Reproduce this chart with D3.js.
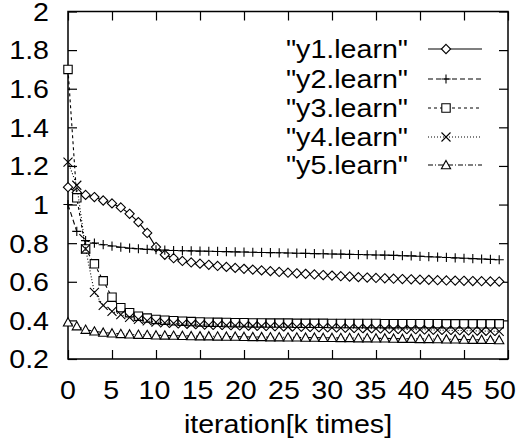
<!DOCTYPE html>
<html lang="en">
<meta charset="utf-8"/>
<head>
<style>
	body { margin: 0; background: #FFFFFF; }
	svg text { font-family: "Liberation Sans", Arial, sans-serif; fill: #000; }
	.tick-label { font-size: 26px; }
	.key-label { font-size: 26px; }
	.series { fill: none; stroke: #000; stroke-width: 1.1; }
	.mark { fill: #fff; stroke: #000; stroke-width: 1.1; }
</style>
</head>
<body>
<svg id="chart" width="525" height="441"></svg>

<script src="https://d3js.org/d3.v7.min.js"></script>
<script>
// iteration index (k times)
let iterations = [0,1,2,3,4,5,6,7,8,9,10,11,12,13,14,15,16,17,18,19,20,21,22,23,24,
	25,26,27,28,29,30,31,32,33,34,35,36,37,38,39,40,41,42,43,44,45,46,47,48,49]

let seriesNames = ["\"y1.learn\"", "\"y2.learn\"", "\"y3.learn\"", "\"y4.learn\"", "\"y5.learn\""]

let y1 = [1.090,1.063,1.050,1.039,1.021,1.006,0.985,0.952,0.909,0.853,0.780,0.740,0.722,0.708,0.700,
	0.694,0.688,0.682,0.677,0.672,0.667,0.663,0.659,0.655,0.651,0.647,0.644,0.641,0.638,0.635,
	0.632,0.629,0.627,0.624,0.622,0.620,0.618,0.616,0.614,0.613,0.611,0.610,0.608,0.607,0.606,
	0.605,0.604,0.603,0.602,0.601]
let y2 = [1.000,0.861,0.813,0.800,0.792,0.785,0.779,0.774,0.771,0.768,0.766,0.764,0.762,0.761,0.760,
	0.759,0.758,0.757,0.756,0.755,0.754,0.753,0.752,0.751,0.750,0.749,0.748,0.747,0.746,0.745,
	0.744,0.743,0.742,0.741,0.740,0.739,0.738,0.737,0.735,0.734,0.732,0.730,0.728,0.726,0.724,
	0.722,0.720,0.718,0.716,0.714]
let y3 = [1.700,1.035,0.770,0.693,0.605,0.520,0.466,0.440,0.422,0.412,0.405,0.401,0.398,0.396,0.394,
	0.392,0.391,0.390,0.389,0.388,0.388,0.387,0.387,0.386,0.386,0.386,0.385,0.385,0.385,0.385,
	0.384,0.384,0.384,0.384,0.384,0.384,0.383,0.383,0.383,0.383,0.383,0.383,0.383,0.382,0.382,
	0.382,0.382,0.382,0.382,0.382]
let y4 = [1.220,1.100,0.770,0.545,0.478,0.447,0.430,0.416,0.405,0.397,0.391,0.387,0.384,0.382,0.380,
	0.378,0.376,0.375,0.374,0.373,0.372,0.371,0.370,0.369,0.368,0.367,0.366,0.365,0.364,0.363,
	0.362,0.361,0.360,0.359,0.358,0.357,0.356,0.355,0.354,0.353,0.352,0.351,0.350,0.349,0.348,
	0.347,0.346,0.345,0.344,0.343]
let y5 = [0.390,0.370,0.352,0.343,0.337,0.333,0.330,0.328,0.326,0.325,0.323,0.322,0.321,0.320,0.319,
	0.318,0.318,0.317,0.316,0.316,0.315,0.314,0.314,0.313,0.313,0.312,0.312,0.311,0.311,0.310,
	0.310,0.309,0.309,0.308,0.308,0.307,0.307,0.306,0.305,0.305,0.304,0.304,0.303,0.302,0.302,
	0.301,0.300,0.300,0.299,0.298]

let xTicks = [0,5,10,15,20,25,30,35,40,45,50]
let yTicks = [0.2,0.4,0.6,0.8,1,1.2,1.4,1.6,1.8,2]

let svg = d3.select("#chart")
let padLeft = 68, padRight = 508, padTop = 11.5, padBottom = 359
let stretch = 1.1   // the gnuplot font comes out a bit wider than Liberation Sans

let xScale = d3.scaleLinear().domain([0, 50]).range([padLeft, padRight])
let yScale = d3.scaleLinear().domain([0.2, 2]).range([padBottom, padTop])
// the x tick labels sit slightly tighter than the ticks themselves
let xLabelScale = d3.scaleLinear().domain([0, 50]).range([padLeft, 500])

// line styles and point types, in gnuplot order
let dashes = [null, "5,3", "3,3", "1,2", "5,2,1,2"]
let marks = [
	s => `M0,${-s}L${s},0L0,${s}L${-s},0Z`,
	s => `M${-s},0H${s}M0,${-s}V${s}`,
	s => `M${-s},${-s}H${s}V${s}H${-s}Z`,
	s => `M${-s},${-s}L${s},${s}M${-s},${s}L${s},${-s}`,
	s => `M0,${-s}L${s},${s*0.8}H${-s}Z`
]
let markSize = [4.6, 4.6, 4.2, 4.5, 4.6]
let allSeries = [y1, y2, y3, y4, y5]

// frame
svg.append("rect")
	.attr("x", padLeft).attr("y", padTop)
	.attr("width", padRight-padLeft).attr("height", padBottom-padTop)
	.attr("fill", "none").attr("stroke", "#000").attr("stroke-width", 1.5)

// ticks go inwards on all four sides, labels only left and bottom
svg.append("g").attr("transform", "translate(0," + padBottom + ")")
	.call(d3.axisBottom(xScale).tickValues(xTicks).tickSizeInner(-9).tickSizeOuter(0).tickFormat(""))
svg.append("g").attr("transform", "translate(0," + padTop + ")")
	.call(d3.axisTop(xScale).tickValues(xTicks).tickSizeInner(-9).tickSizeOuter(0).tickFormat(""))
let yAxis = svg.append("g").attr("transform", "translate(" + padLeft + ",0)")
	.call(d3.axisLeft(yScale).tickValues(yTicks).tickSizeInner(-9).tickSizeOuter(0).tickFormat(d3.format("")))
svg.append("g").attr("transform", "translate(" + padRight + ",0)")
	.call(d3.axisRight(yScale).tickValues(yTicks).tickSizeInner(-9).tickSizeOuter(0).tickFormat(""))

svg.selectAll(".domain").remove()
svg.selectAll(".tick line").attr("stroke", "#000").attr("stroke-width", 1.2)
yAxis.selectAll("text")
	.attr("class", "tick-label").attr("font-size", null).attr("font-family", null)
	.attr("dy", "0.34em").attr("x", -19 / stretch)
	.attr("transform", "scale(" + stretch + ",1)")

svg.append("g").selectAll("g")
	.data(xTicks)
	.enter()
	.append("g")
	.attr("transform", d => "translate(" + xLabelScale(d) + ",399)")
	.append("text")
	.attr("class", "tick-label")
	.attr("text-anchor", "middle")
	.attr("transform", "scale(" + stretch + ",1)")
	.text(d => d)

svg.append("g")
	.attr("transform", "translate(" + (padLeft+padRight)/2 + ",433)")
	.append("text")
	.attr("class", "tick-label")
	.attr("text-anchor", "middle")
	.attr("transform", "scale(" + stretch + ",1)")
	.text("iteration[k times]")

let line = d3.line().x((d, i) => xScale(iterations[i])).y(d => yScale(d))

allSeries.forEach((vals, k) => {
	svg.append("path")
		.datum(vals)
		.attr("class", "series")
		.attr("stroke-dasharray", dashes[k])
		.attr("d", line)
	svg.append("g").selectAll("path")
		.data(vals)
		.enter()
		.append("path")
		.attr("class", "mark")
		.attr("fill", k == 1 || k == 3 ? "none" : "#fff")
		.attr("transform", (d, i) => "translate(" + xScale(iterations[i]) + "," + yScale(d) + ")")
		.attr("d", marks[k](markSize[k]))
})

// key
let keyY = [49, 79, 108, 137, 165]
let key = svg.append("g")
seriesNames.forEach((name, k) => {
	key.append("g")
		.attr("transform", "translate(408," + (keyY[k] + 9) + ")")
		.append("text")
		.attr("class", "key-label")
		.attr("text-anchor", "end")
		.attr("transform", "scale(" + stretch + ",1)")
		.text(name)
	key.append("line")
		.attr("class", "series")
		.attr("x1", 428).attr("x2", 482)
		.attr("y1", keyY[k]).attr("y2", keyY[k])
		.attr("stroke-dasharray", dashes[k])
	key.append("path")
		.attr("class", "mark")
		.attr("fill", k == 1 || k == 3 ? "none" : "#fff")
		.attr("transform", "translate(446," + keyY[k] + ")")
		.attr("d", marks[k](markSize[k]))
})
</script>
</body>
</html>
